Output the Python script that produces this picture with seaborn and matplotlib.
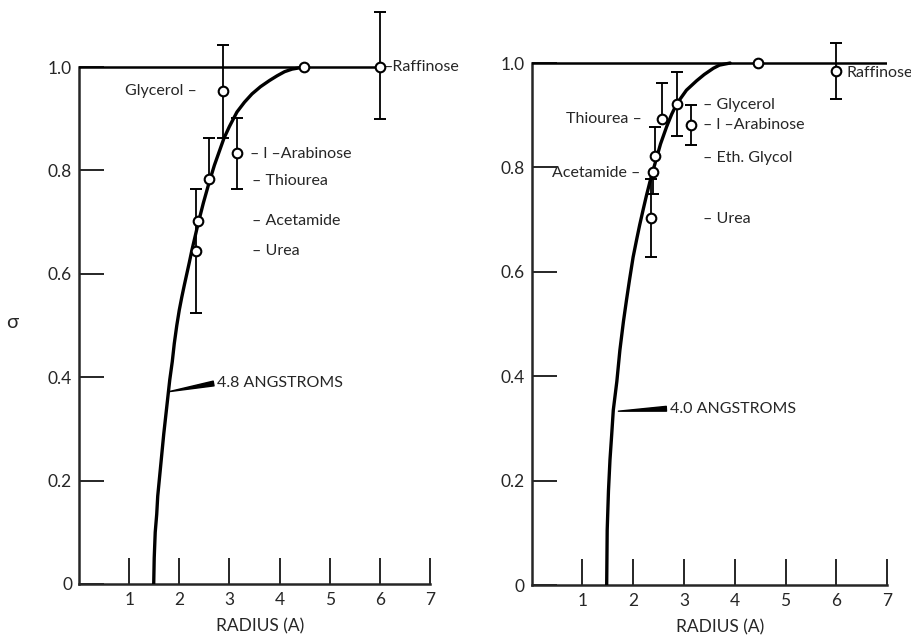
import matplotlib
matplotlib.use("Agg")
import numpy as np
import pandas as pd
import matplotlib.pyplot as plt
import seaborn as sns

# ---------------- data ----------------
left_curve_r = [1.49, 1.50, 1.52, 1.55, 1.57, 1.61, 1.65, 1.69, 1.73, 1.77, 1.81, 1.86, 1.90,
                1.95, 2.00, 2.05, 2.10, 2.15, 2.20, 2.25, 2.31, 2.37, 2.48, 2.59, 2.70,
                2.89, 3.00, 3.15, 3.30, 3.45, 3.62, 3.80, 3.95, 4.10, 4.25, 4.49]
left_curve_s = [0.0, 0.05, 0.10, 0.135, 0.17, 0.21, 0.25, 0.29, 0.325, 0.36, 0.395, 0.43,
                0.465, 0.50, 0.53, 0.555, 0.578, 0.60, 0.622, 0.645, 0.67, 0.695, 0.737,
                0.775, 0.81, 0.862, 0.885, 0.913, 0.932, 0.948, 0.962, 0.974, 0.983, 0.991,
                0.996, 1.0]
left_plateau_r = [0.0, 6.0]
left_plateau_s = [1.0, 1.0]

left_names = ["Glycerol", "Raffinose", "l-Arabinose", "Thiourea", "Acetamide", "Urea", ""]
left_r = [2.87, 6.0, 3.15, 2.59, 2.37, 2.33, 4.49]
left_s = [0.953, 1.0, 0.834, 0.783, 0.702, 0.644, 1.0]
left_err_lo = [0.09, 0.10, 0.07, 0.0, 0.0, 0.12, 0.0]
left_err_hi = [0.09, 0.107, 0.068, 0.079, 0.0, 0.12, 0.0]

right_curve_r = [1.48, 1.49, 1.515, 1.545, 1.58, 1.61, 1.68, 1.74, 1.81, 1.87, 1.93, 2.0,
                 2.07, 2.13, 2.2, 2.26, 2.33, 2.38, 2.43, 2.54, 2.66, 2.76, 2.86, 3.05,
                 3.25, 3.4, 3.58, 3.7, 3.91]
right_curve_s = [0.0, 0.105, 0.18, 0.24, 0.29, 0.335, 0.39, 0.45, 0.505, 0.546, 0.585,
                 0.628, 0.662, 0.69, 0.72, 0.745, 0.772, 0.79, 0.807, 0.845, 0.878, 0.902,
                 0.922, 0.948, 0.966, 0.978, 0.99, 0.996, 1.0]
right_plateau_r = [0.0, 7.0]
right_plateau_s = [1.0, 1.0]

right_names = ["Glycerol", "Thiourea", "l-Arabinose", "Eth. Glycol", "Acetamide", "Urea",
               "Raffinose", ""]
right_r = [2.86, 2.575, 3.13, 2.43, 2.385, 2.35, 6.0, 4.45]
right_s = [0.921, 0.893, 0.881, 0.822, 0.792, 0.703, 0.985, 1.0]
right_err_lo = [0.06, 0.0, 0.038, 0.0, 0.042, 0.075, 0.053, 0.0]
right_err_hi = [0.062, 0.068, 0.038, 0.056, 0.0, 0.075, 0.053, 0.0]

x_ticks = [1, 2, 3, 4, 5, 6, 7]
x_tick_labels = ["1", "2", "3", "4", "5", "6", "7"]
y_ticks = [0, 0.2, 0.4, 0.6, 0.8, 1.0]
y_tick_labels = ["0", "0.2", "0.4", "0.6", "0.8", "1.0"]

# ---------------- style ----------------
sns.set_style("ticks")
plt.rcParams['font.family'] = ['Lato', 'DejaVu Sans']

fig = plt.figure(figsize=(9.11, 6.38), dpi=100)
axL = fig.add_axes([79 / 911, 54 / 638, 351 / 911, 579 / 638])
axR = fig.add_axes([531.5 / 911, 53 / 638, 355.6 / 911, 584.6 / 638])

FS = 11.5


def draw_panel(ax, cr, cs, pr, ps, r, s, lo, hi):
    curve = pd.DataFrame({"r": cr, "s": cs})
    sns.lineplot(data=curve, x="r", y="s", ax=ax, sort=False, color="black",
                 linewidth=2.4, estimator=None, zorder=3)
    plateau = pd.DataFrame({"r": pr, "s": ps})
    sns.lineplot(data=plateau, x="r", y="s", ax=ax, sort=False, color="black",
                 linewidth=1.8, estimator=None, zorder=3)
    pts = pd.DataFrame({"r": r, "s": s, "lo": lo, "hi": hi})
    ax.vlines(pts["r"], pts["s"] - pts["lo"], pts["s"] + pts["hi"], color="black",
              linewidth=1.3, zorder=4)
    up = pts[pts["hi"] > 0]
    dn = pts[pts["lo"] > 0]
    ax.plot(up["r"], up["s"] + up["hi"], linestyle="none", marker="_", markersize=9,
            mew=1.4, color="black", zorder=4)
    ax.plot(dn["r"], dn["s"] - dn["lo"], linestyle="none", marker="_", markersize=9,
            mew=1.4, color="black", zorder=4)
    sns.scatterplot(data=pts, x="r", y="s", ax=ax, s=48, facecolor="white",
                    edgecolor="black", linewidth=1.5, zorder=6)

    ax.set_xlim(0, 7)
    ax.set_ylim(0, 1.12)
    for sp in ["top", "right"]:
        ax.spines[sp].set_visible(False)
    ax.spines["left"].set_bounds(0, 1.0)
    ax.spines["bottom"].set_bounds(0, 7)
    for sp in ["left", "bottom"]:
        ax.spines[sp].set_linewidth(1.8)
    ax.set_xticks(x_ticks)
    ax.set_xticklabels(x_tick_labels)
    ax.set_yticks(y_ticks)
    ax.set_yticklabels(y_tick_labels)
    ax.tick_params(axis="x", direction="in", length=19, width=1.4, labelsize=FS + 1, pad=6)
    ax.tick_params(axis="y", direction="in", length=18, width=1.4, labelsize=FS + 1, pad=5)
    ax.set_ylabel("")
    ax.set_xlabel("RADIUS (A)", fontsize=FS + 1)
    ax.xaxis.label.set_verticalalignment("center")
    ax.patch.set_alpha(0)


draw_panel(axL, left_curve_r, left_curve_s, left_plateau_r, left_plateau_s,
           left_r, left_s, left_err_lo, left_err_hi)
draw_panel(axR, right_curve_r, right_curve_s, right_plateau_r, right_plateau_s,
           right_r, right_s, right_err_lo, right_err_hi)

axL.xaxis.set_label_coords(3.62 / 7, -0.074)
axR.xaxis.set_label_coords(3.72 / 7, -0.073)

# ---------------- labels: left ----------------
axL.text(2.35, 0.953, "Glycerol –", ha="right", va="center", fontsize=FS)
axL.text(3.42, 0.831, "– l –Arabinose", ha="left", va="center", fontsize=FS)
axL.text(3.45, 0.78, "– Thiourea", ha="left", va="center", fontsize=FS)
axL.text(3.45, 0.702, "– Acetamide", ha="left", va="center", fontsize=FS)
axL.text(3.45, 0.644, "– Urea", ha="left", va="center", fontsize=FS)
axL.text(6.08, 1.0, "–Raffinose", ha="left", va="center", fontsize=FS)
axL.annotate("4.8 ANGSTROMS", xy=(1.79, 0.372), xytext=(2.75, 0.389),
             ha="left", va="center", fontsize=FS,
             arrowprops=dict(arrowstyle="wedge,tail_width=0.3", color="black",
                             shrinkA=0, shrinkB=0, relpos=(0, 0.5)))

# ---------------- labels: right ----------------
axR.text(2.18, 0.893, "Thiourea –", ha="right", va="center", fontsize=FS)
axR.text(2.14, 0.789, "Acetamide –", ha="right", va="center", fontsize=FS)
axR.text(3.38, 0.92, "– Glycerol", ha="left", va="center", fontsize=FS)
axR.text(3.38, 0.881, "– l –Arabinose", ha="left", va="center", fontsize=FS)
axR.text(3.38, 0.818, "– Eth. Glycol", ha="left", va="center", fontsize=FS)
axR.text(3.38, 0.701, "– Urea", ha="left", va="center", fontsize=FS)
axR.text(6.2, 0.981, "Raffinose", ha="left", va="center", fontsize=FS)
axR.annotate("4.0 ANGSTROMS", xy=(1.71, 0.333), xytext=(2.72, 0.338),
             ha="left", va="center", fontsize=FS,
             arrowprops=dict(arrowstyle="wedge,tail_width=0.3", color="black",
                             shrinkA=0, shrinkB=0, relpos=(0, 0.5)))

fig.text(12 / 911, 1 - 322 / 638, "σ", ha="center", va="center", fontsize=FS + 3)

fig.savefig("out.png", dpi=100, facecolor="white")
